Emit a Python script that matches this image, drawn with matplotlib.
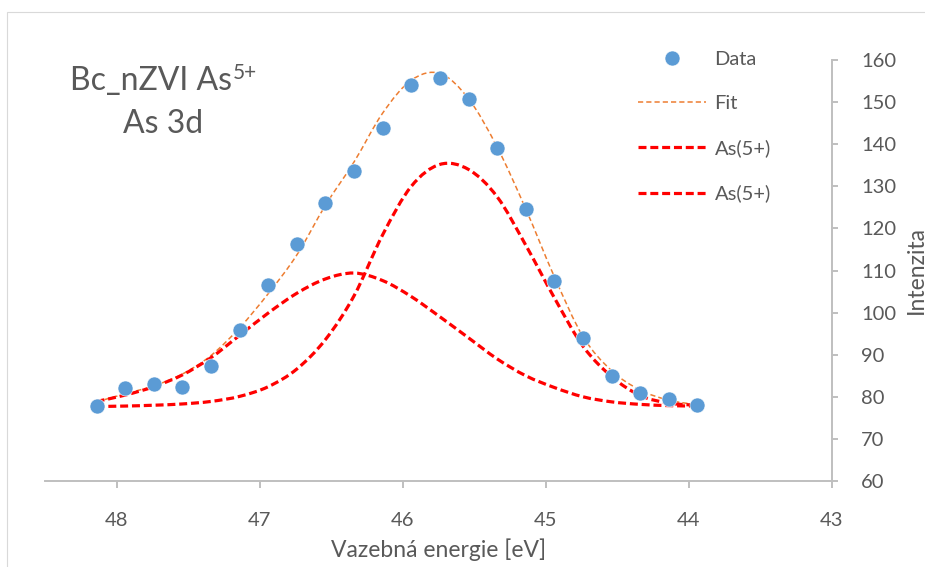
import numpy as np
import matplotlib
matplotlib.use('Agg')
import matplotlib.pyplot as plt
from matplotlib.path import Path
from matplotlib.patches import PathPatch, Rectangle
from matplotlib.lines import Line2D

plt.rcParams['font.family'] = ['Lato', 'DejaVu Sans']

energy = [48.14, 47.94, 47.74, 47.54, 47.34, 47.14, 46.94, 46.74, 46.54, 46.34, 46.14,
          45.94, 45.74, 45.54, 45.34, 45.14, 44.94, 44.74, 44.54, 44.34, 44.14, 43.94]
data = [77.7, 82.2, 83.0, 82.3, 87.3, 95.9, 106.6, 116.3, 126.1, 133.7, 143.8,
        154.1, 155.7, 150.7, 139.0, 124.7, 107.5, 94.0, 85.0, 81.0, 79.5, 78.0]
fit = [78.8, 80.7, 82.6, 85.4, 89.8, 96.4, 104.5, 113.7, 125.5, 135.8, 147.4,
       155.2, 156.8, 150.8, 139.3, 124.6, 108.5, 94.3, 86.2, 81.6, 79.2, 78.1]
as5_broad = [78.9, 80.4, 82.4, 85.2, 89.3, 94.6, 99.9, 104.6, 108.0, 109.4, 107.6,
             103.8, 99.0, 94.0, 89.0, 85.0, 82.2, 80.0, 78.8, 78.2, 77.9, 77.8]
as5_narrow = [77.7, 77.8, 78.0, 78.3, 78.9, 80.1, 82.4, 86.6, 93.6, 104.0, 118.5,
              130.0, 135.2, 134.0, 127.5, 116.0, 103.5, 92.0, 84.8, 80.3, 78.5, 78.0]

x_ticks = [48, 47, 46, 45, 44, 43]
y_ticks = list(range(60, 161, 10))

text_col = '#595959'
axis_col = '#bfbfbf'
blue = '#5b9bd5'
orange = '#ed7d31'
red = '#ff0000'


def smooth_path(xs, ys):
    # excel-like smoothed line (catmull-rom as bezier segments)
    pts = np.column_stack([xs, ys])
    n = len(pts)
    verts = [pts[0]]
    codes = [Path.MOVETO]
    for i in range(n - 1):
        p0 = pts[i - 1] if i > 0 else pts[i]
        p1 = pts[i]
        p2 = pts[i + 1]
        p3 = pts[i + 2] if i + 2 < n else pts[i + 1]
        verts += [p1 + (p2 - p0) / 6, p2 - (p3 - p1) / 6, p2]
        codes += [Path.CURVE4] * 3
    return Path(verts, codes)


fig = plt.figure(figsize=(9.25, 5.67), dpi=100)
ax = fig.add_axes([45 / 925, 1 - 481 / 567, 787 / 925, 421 / 567])

fit_style = dict(color=orange, lw=1.1, ls=(0, (3.4, 2.0)))
red_style = dict(color=red, lw=2.3, ls=(0, (2.5, 1.2)))

for ys, st in [(fit, fit_style), (as5_broad, red_style), (as5_narrow, red_style)]:
    patch = PathPatch(smooth_path(energy, ys), fill=False, edgecolor=st['color'],
                      lw=st['lw'], linestyle=st['ls'], capstyle='butt', zorder=2)
    ax.add_patch(patch)

ax.plot(energy, data, 'o', color=blue, ms=10.8, mec='white', mew=0.4, zorder=3)

ax.set_xlim(48.5, 43)
ax.set_ylim(60, 160)
ax.set_xticks(x_ticks)
ax.set_yticks(y_ticks)
ax.yaxis.tick_right()
ax.yaxis.set_label_position('right')

for s in ['top', 'left']:
    ax.spines[s].set_visible(False)
for s in ['bottom', 'right']:
    ax.spines[s].set_color(axis_col)
    ax.spines[s].set_linewidth(1.4)

ax.tick_params(axis='x', colors=axis_col, labelcolor=text_col, labelsize=14.5,
               length=5, width=1.4, pad=17)
ax.tick_params(axis='y', colors=axis_col, labelcolor=text_col, labelsize=14.5,
               length=4, width=1.4, pad=17)

ax.set_xlabel('Vazebná energie [eV]', fontsize=16.5, color=text_col)
ax.xaxis.set_label_coords(0.5, -0.137)
ax.set_ylabel('Intenzita', fontsize=16.5, color=text_col)
ax.yaxis.set_label_coords(1.107, 0.5)
ax.yaxis.label.set_verticalalignment('center')

t1 = ax.text((70 - 45) / 787, (481 - 90) / 421, 'Bc_nZVI As', transform=ax.transAxes,
             fontsize=23, color=text_col, ha='left', va='baseline')
ax.annotate('5+', xy=(1.0, 0.0), xycoords=t1, xytext=(1, 17), textcoords='offset pixels',
            fontsize=15, color=text_col, ha='left', va='baseline')
ax.text((163 - 45) / 787, (481 - 133) / 421, 'As 3d', transform=ax.transAxes,
        fontsize=23, color=text_col, ha='center', va='baseline')

handles = [
    Line2D([], [], ls='none', marker='o', color=blue, ms=10.8, mec='white', mew=0.4),
    Line2D([], [], color=orange, lw=1.1, ls=(0, (3.4, 2.0))),
    Line2D([], [], color=red, lw=2.3, ls=(0, (2.5, 1.2))),
    Line2D([], [], color=red, lw=2.3, ls=(0, (2.5, 1.2))),
]
leg = ax.legend(handles, ['Data', 'Fit', 'As(5+)', 'As(5+)'], loc='upper left',
                bbox_to_anchor=((638 - 45) / 787, (481 - 51) / 421), frameon=False,
                fontsize=14.5, handlelength=3.4, handletextpad=0.4, labelspacing=1.35,
                borderpad=0, borderaxespad=0, numpoints=1)
for t in leg.get_texts():
    t.set_color(text_col)

fig.patches.append(Rectangle((7 / 925, -0.1), 1.2, 1.1 - 12 / 567,
                             transform=fig.transFigure, fill=False,
                             edgecolor='#d9d9d9', lw=0.8))

plt.savefig('out.png', dpi=100)
